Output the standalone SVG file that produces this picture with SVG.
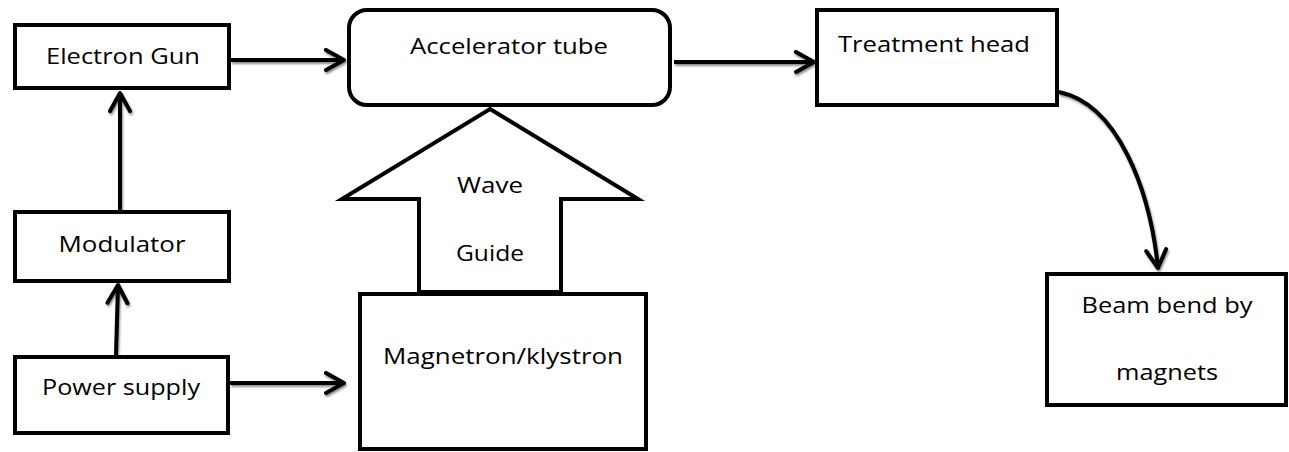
<svg xmlns="http://www.w3.org/2000/svg" width="1289" height="452" viewBox="0 0 1289 452">
<style>
.box{fill:#fff;stroke:#000;stroke-width:4}
.t{font-family:"Open Sans","Noto Sans","Liberation Sans",sans-serif;font-size:22.5px;fill:#000;text-anchor:middle}
.c{fill:none;stroke:#000;stroke-width:4;marker-end:url(#ah)}
</style>
<defs>
<marker id="ah" markerUnits="userSpaceOnUse" markerWidth="30" markerHeight="30" refX="20" refY="12" orient="auto">
<path d="M2,2 L20,12 L2,22" fill="none" stroke="#000" stroke-width="4" stroke-linecap="round" stroke-linejoin="round"/>
</marker>
<filter id="sh" x="-20%" y="-20%" width="140%" height="160%">
<feDropShadow dx="1" dy="2" stdDeviation="1" flood-color="#000" flood-opacity="0.45"/>
</filter>
</defs>
<g id="connectors" filter="url(#sh)">
<path class="c" d="M231,60 L344,60"/>
<path class="c" d="M674,62 L814,62"/>
<path class="c" d="M1059,92 C1118,104 1150,190 1158,268"/>
<path class="c" d="M120,210 L120,93"/>
<path class="c" d="M116,355 L118,285"/>
<path class="c" d="M230,383 L344,383"/>
</g>
<g id="electron-gun"><rect class="box" x="15" y="25" width="214" height="63"/><text class="t" x="123" y="63.5" textLength="154" lengthAdjust="spacingAndGlyphs">Electron Gun</text></g>
<g id="accelerator-tube"><rect class="box" x="349" y="10" width="321" height="95" rx="18"/><text class="t" x="509" y="54" textLength="198" lengthAdjust="spacingAndGlyphs">Accelerator tube</text></g>
<g id="treatment-head"><rect class="box" x="817" y="10" width="240" height="95"/><text class="t" x="934" y="52" textLength="192" lengthAdjust="spacingAndGlyphs">Treatment head</text></g>
<g id="modulator"><rect class="box" x="15" y="212" width="214" height="69"/><text class="t" x="122" y="252" textLength="127" lengthAdjust="spacingAndGlyphs">Modulator</text></g>
<g id="power-supply"><rect class="box" x="15" y="357" width="213" height="76"/><text class="t" x="121" y="395" textLength="158" lengthAdjust="spacingAndGlyphs">Power supply</text></g>
<g id="wave-guide"><path class="box" d="M490,109 L638,199 L561,199 L561,292 L419,292 L419,199 L342,199 Z" stroke-linejoin="miter"/><text class="t" x="490" y="193" textLength="66" lengthAdjust="spacingAndGlyphs">Wave</text><text class="t" x="490" y="261" textLength="68" lengthAdjust="spacingAndGlyphs">Guide</text></g>
<g id="magnetron"><rect class="box" x="360" y="294" width="286" height="155"/><text class="t" x="503" y="364" textLength="240" lengthAdjust="spacingAndGlyphs">Magnetron/klystron</text></g>
<g id="beam-bend"><rect class="box" x="1047" y="274" width="239" height="131"/><text class="t" x="1167" y="313" textLength="171" lengthAdjust="spacingAndGlyphs">Beam bend by</text><text class="t" x="1167" y="380" textLength="102" lengthAdjust="spacingAndGlyphs">magnets</text></g>
</svg>
